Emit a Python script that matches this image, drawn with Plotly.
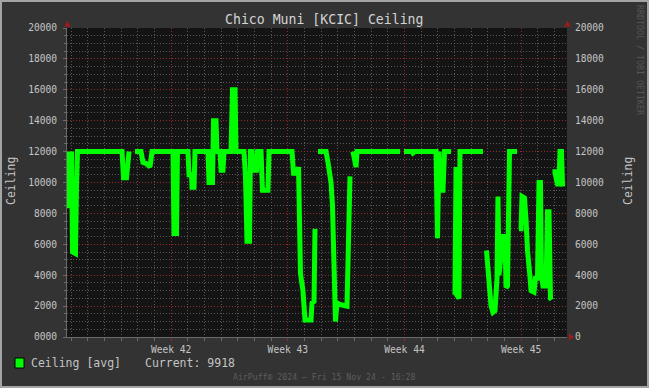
import pandas as pd
import plotly.graph_objects as go

# ---------------- data ----------------
start_time = "2024-10-07 18:00"
span_hours = 720
hours = [0, 0.7, 4.3, 5.0, 6.5, 7.9, 12.2, 13.7, 15.1, 79.2, 81.4, 85.7, 87.8, 89.3,
         93.0,
         97.9, 106.6, 109.4, 115.2, 119.5, 122.4, 152.6, 154.1, 157.7, 159.1, 174.2, 175.7,
         179.3, 180.0, 182.9, 184.3, 203.0, 204.5, 209.5, 211.0, 214.6, 216.0, 220.3, 221.8,
         224.6, 226.1, 236.2, 238.3, 241.9, 243.4, 254.9, 257.0, 259.2, 262.8, 264.2, 266.4,
         268.6, 272.9, 274.3, 279.4, 281.5, 289.4, 290.9, 324.0, 326.2, 331.2, 333.4, 336.2,
         339.8, 342.7, 351.4, 352.8, 355.7, 357.1,
         359.0,
         361.4, 373.0, 375.8, 380.2, 382.3, 384.5, 386.6, 388.8, 393.1, 403.2, 405.4, 407.5,
         409.5,
         411.8, 414.7, 416.2, 417.6, 479.5,
         482.0,
         485.3, 496.8, 498.2, 501.1, 531.4, 533.5, 535.7, 537.1, 541.4, 543.6, 553.0,
         554.0,
         555.1, 558.7, 560.2, 561.6, 564.5, 565.9, 599.0,
         601.5,
         604.1, 607.7, 610.6, 613.4, 616.3, 619.2, 620.6, 622.1, 627.8, 630.7, 632.2, 634.3,
         635.8, 637.2, 648.0,
         649.5,
         650.9, 653.8, 655.2, 658.8, 661.0, 663.1, 666.7, 668.2, 672.5, 674.6, 677.5, 679.7,
         681.8, 683.3, 685.4, 689.8, 691.9, 694.1, 696.2, 697.7,
         698.4,
         699.1, 702.7, 704.2, 706.3, 708.5, 709.9, 712.1, 713.5, 717.1]
ceiling = [12000, 8500, 8500, 12000, 12000, 5500, 5400, 9700, 12000, 12000, 10300, 10300, 12000, 12000,
           None,
           12000, 12000, 11300, 11200, 11000, 12000, 12000, 6700, 6700, 12000, 12000, 10500,
           10500, 9700, 9700, 12000, 12000, 10000, 10000, 14000, 14000, 12000, 12000, 10800,
           10800, 12000, 12000, 16000, 16000, 12000, 12000, 10400, 6200, 6200, 12000, 12000,
           10800, 10800, 12000, 12000, 9500, 9500, 12000, 12000, 10600, 10600, 11000, 4100,
           3000, 1100, 1100, 2200, 2300, 7000,
           None,
           12000, 12000, 11300, 10000, 8500, 4300, 1000, 2200, 2100, 2000, 5600, 10400,
           None,
           12000, 11500, 11000, 12000, 12000,
           None,
           12000, 12000, 11900, 12000, 12000, 6400, 12000, 9500, 9500, 12000, 12000,
           None,
           2900, 2900, 11000, 2700, 2500, 12000, 12000,
           None,
           5600, 3200, 2000, 1600, 1700, 3800, 9100, 4000, 6500, 6500, 3200, 3300,
           9000, 12000, 12000,
           None,
           7000, 7000, 9100, 9000, 7600, 5600, 3900, 3000, 2900, 3800, 3800, 10000,
           10000, 4000, 3300, 3300, 8100, 8100, 2500, 2400,
           None,
           10700, 10700, 10300, 9900, 9900, 12000, 12000, 9900, 9918]

week_starts = ["2024-10-14", "2024-10-21", "2024-10-28", "2024-11-04"]
week_labels = ["Week 42", "Week 43", "Week 44", "Week 45"]
y_ticks = [0, 2000, 4000, 6000, 8000, 10000, 12000, 14000, 16000, 18000, 20000]
y_labels_left = ["0000", "2000", "4000", "6000", "8000", "10000", "12000", "14000",
                 "16000", "18000", "20000"]
y_labels_right = ["0", "2000", "4000", "6000", "8000", "10000", "12000", "14000",
                  "16000", "18000", "20000"]
title_text = "Chico Muni [KCIC] Ceiling"
legend_name = "Ceiling [avg]"
current_text = "Current: 9918"
footer_text = "AirPuff® 2024 – Fri 15 Nov 24 - 16:28"
watermark = "RRDTOOL / TOBI OETIKER"

# ---------------- figure ----------------
W, H = 649, 388
L, R, T, B = 67, 567, 28, 337  # plot area in pixels
t0 = pd.Timestamp(start_time)
times = [t0 + pd.Timedelta(hours=h) for h in hours]
t_end = t0 + pd.Timedelta(hours=span_hours)

MONO = "DejaVu Sans Mono"
TXT = "#c4c4c4"
RED_GRID = "rgba(150,40,40,0.9)"
GRAY_GRID = "rgba(95,95,95,0.9)"


def px(x):
    return (x - L) / (R - L)


def py(y):
    return (B - y) / (B - T)


fig = go.Figure()
fig.add_trace(go.Scatter(x=times, y=ceiling, mode="lines", connectgaps=False,
                         line=dict(color="#00ff00", width=5), showlegend=False,
                         hoverinfo="skip"))
fig.add_trace(go.Scatter(x=times, y=ceiling, mode="lines", yaxis="y2", opacity=0,
                         line=dict(width=0), showlegend=False, hoverinfo="skip"))

fig.update_layout(
    width=W, height=H,
    margin=dict(l=L, r=W - R, t=T, b=H - B, pad=0),
    paper_bgcolor="#333333", plot_bgcolor="#141414",
    font=dict(family=MONO, color=TXT),
    showlegend=False,
    xaxis=dict(
        type="date", range=[t0, t_end],
        tickvals=week_starts, ticktext=week_labels,
        tickfont=dict(size=9.6, color=TXT),
        showgrid=True, gridcolor=RED_GRID, griddash="1px,2px", gridwidth=1,
        ticks="outside", ticklen=3, tickcolor="#8a2a2a",
        showline=True, linecolor="#6a6a6a", linewidth=1,
        zeroline=False,
        minor=dict(dtick=86400000, tick0="2024-10-14", showgrid=True,
                   gridcolor=GRAY_GRID, griddash="1px,2px", gridwidth=1,
                   ticks="outside", ticklen=3, tickcolor="#6a6a6a"),
    ),
    yaxis=dict(
        range=[0, 20000], tickvals=y_ticks, ticktext=y_labels_left,
        tickfont=dict(size=9.6, color=TXT),
        showgrid=True, gridcolor=RED_GRID, griddash="1px,2px", gridwidth=1,
        ticks="outside", ticklen=3, tickcolor="#6a6a6a",
        showline=True, linecolor="#6a6a6a", linewidth=1, zeroline=False,
        ticklabelstandoff=4,
        minor=dict(dtick=500, showgrid=True, gridcolor=GRAY_GRID,
                   griddash="1px,2px", gridwidth=1,
                   ticks="outside", ticklen=2, tickcolor="#6a6a6a"),
    ),
    yaxis2=dict(
        range=[0, 20000], overlaying="y", side="right",
        tickvals=y_ticks, ticktext=y_labels_right,
        tickfont=dict(size=9.6, color=TXT),
        showgrid=False, zeroline=False, ticks="", showline=False,
        ticklabelstandoff=7,
    ),
)

ann = []
ann.append(dict(text=title_text, x=px(324), y=py(19), xref="paper", yref="paper",
                showarrow=False, font=dict(size=13.2, color="#d4d4d4", family=MONO),
                xanchor="center", yanchor="middle"))
ann.append(dict(text="Ceiling", x=px(11), y=py(181), xref="paper", yref="paper",
                showarrow=False, textangle=-90, font=dict(size=11.5, color=TXT, family=MONO),
                xanchor="center", yanchor="middle"))
ann.append(dict(text="Ceiling", x=px(628), y=py(181), xref="paper", yref="paper",
                showarrow=False, textangle=-90, font=dict(size=11.5, color=TXT, family=MONO),
                xanchor="center", yanchor="middle"))
ann.append(dict(text=legend_name, x=px(29), y=py(363), xref="paper", yref="paper",
                showarrow=False, font=dict(size=11.5, color=TXT, family=MONO),
                xanchor="left", yanchor="middle"))
ann.append(dict(text=current_text, x=px(143), y=py(363), xref="paper", yref="paper",
                showarrow=False, font=dict(size=11.5, color=TXT, family=MONO),
                xanchor="left", yanchor="middle"))
ann.append(dict(text=footer_text, x=px(324), y=py(377), xref="paper", yref="paper",
                showarrow=False, font=dict(size=8.2, color="#5e5e5e", family=MONO),
                xanchor="center", yanchor="middle"))
ann.append(dict(text=watermark, x=px(640), y=py(60), xref="paper", yref="paper",
                showarrow=False, textangle=90, font=dict(size=8.3, color="#565656", family=MONO),
                xanchor="center", yanchor="middle"))
fig.update_layout(annotations=ann)

shapes = []
# outer frame
shapes.append(dict(type="rect", xref="paper", yref="paper",
                   x0=px(1), x1=px(648), y0=py(387), y1=py(1),
                   line=dict(color="#a4a4a4", width=2), fillcolor="rgba(0,0,0,0)", layer="above"))
# legend swatch
shapes.append(dict(type="rect", xref="paper", yref="paper",
                   x0=px(15), x1=px(24), y0=py(368), y1=py(358),
                   line=dict(color="#000000", width=1), fillcolor="#00ff00"))
# axis arrows
ARROW = "#9a1c1c"


def tri(points):
    d = "M " + " L ".join(f"{px(a)},{py(b)}" for a, b in points) + " Z"
    return dict(type="path", xref="paper", yref="paper", path=d,
                fillcolor=ARROW, line=dict(color=ARROW, width=0.5), layer="above")


shapes.append(tri([(64.5, 26.5), (70.5, 26.5), (67.5, 21)]))
shapes.append(tri([(564.5, 26.5), (570.5, 26.5), (567.5, 21)]))
shapes.append(tri([(569, 334), (569, 340), (574, 337)]))
fig.update_layout(shapes=shapes)

fig.write_html("out.html",
               config={"displayModeBar": False, "staticPlot": True},
               post_script="document.body.style.margin='0';document.body.style.overflow='hidden';")
